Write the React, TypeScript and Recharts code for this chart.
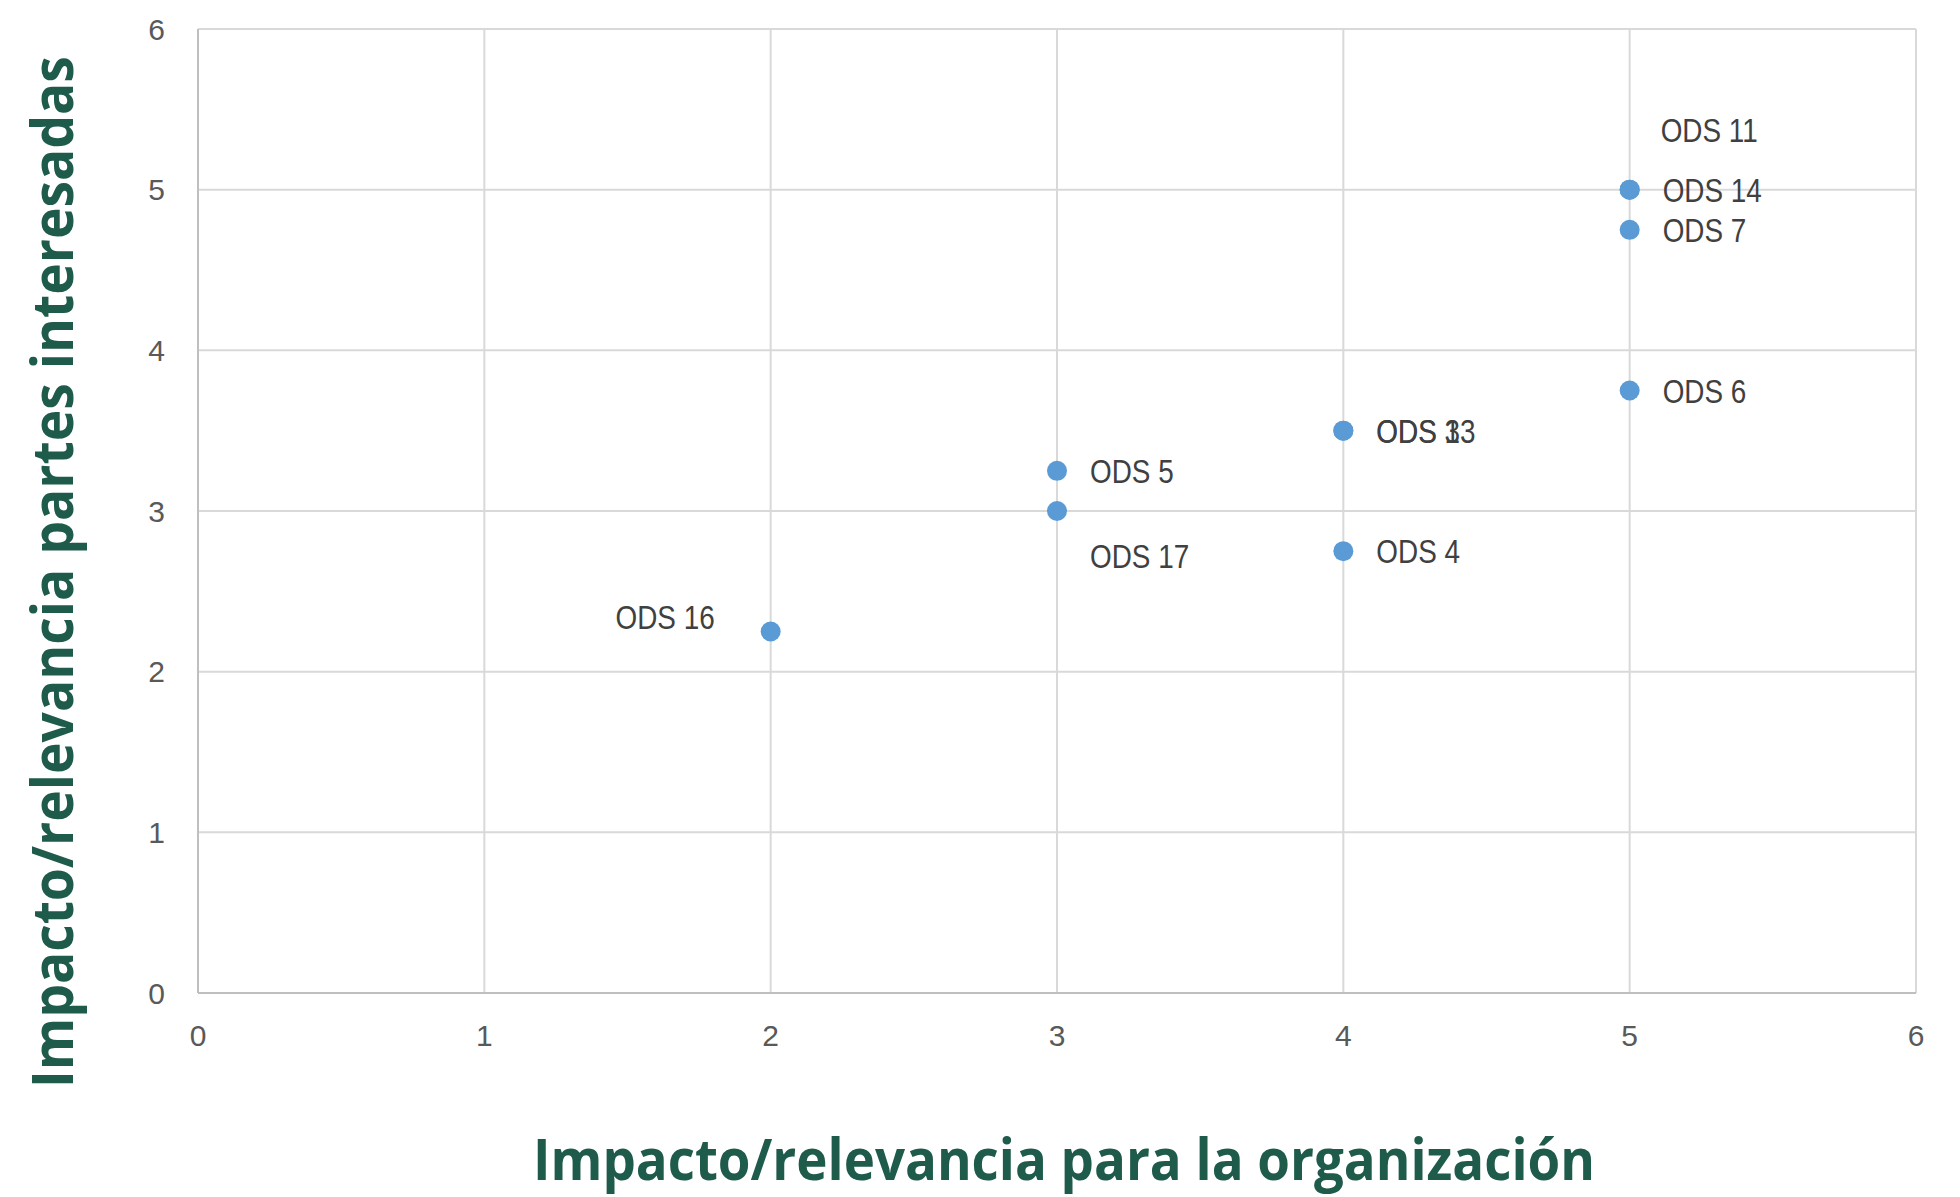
import React, { useLayoutEffect, useRef, useState } from 'react';
import { ScatterChart, Scatter, XAxis, YAxis, CartesianGrid, Label } from 'recharts';

const categories = ['ODS 14', 'ODS 11', 'ODS 7', 'ODS 6', 'ODS 3', 'ODS 13', 'ODS 5', 'ODS 17', 'ODS 4', 'ODS 16'];
const impactoOrganizacion = [5, 5, 5, 5, 4, 4, 3, 3, 4, 2];
const impactoPartes = [5, 5, 4.75, 3.75, 3.5, 3.5, 3.25, 3, 2.75, 2.25];
const axisTicks = [0, 1, 2, 3, 4, 5, 6];
const xTitle = 'Impacto/relevancia para la organización';
const yTitle = 'Impacto/relevancia partes interesadas';

const data = categories.map((name, i) => ({ name, x: impactoOrganizacion[i], y: impactoPartes[i] }));

const labelSide: Record<string, string> = { 'ODS 11': 'above', 'ODS 17': 'below', 'ODS 16': 'left' };

const LABEL_FONT = '"Liberation Sans", Arial, sans-serif';
const TITLE_COLOR = '#1f5b4a';

const renderPoint = (props: any) => {
  const { cx, cy, payload } = props;
  const side = labelSide[payload.name] || 'right';
  let tx = cx + 33;
  let ty = cy;
  let anchor: 'start' | 'end' = 'start';
  if (side === 'above') { tx = cx + 31; ty = cy - 60; }
  if (side === 'below') { ty = cy + 45; }
  if (side === 'left') { tx = cx - 56; ty = cy - 15; anchor = 'end'; }
  return (
    <g>
      <circle cx={cx} cy={cy} r={10} fill="#5b9bd5" />
      <text transform={`translate(${tx}, ${ty}) scale(0.82, 1)`} x={0} y={0} dy="0.36em" textAnchor={anchor}
        fill="#404040" fontSize={34} fontFamily={LABEL_FONT}>
        {payload.name}
      </text>
    </g>
  );
};

const FitTitle = ({ cx, cy, length, vertical, text }: any) => {
  const ref = useRef<SVGTextElement>(null);
  const [k, setK] = useState(0.8);
  useLayoutEffect(() => {
    if (ref.current) {
      const w = ref.current.getComputedTextLength();
      if (w > 0) setK(length / w);
    }
  }, [length, text]);
  const transform = vertical
    ? `translate(${cx}, ${cy}) rotate(-90) scale(${k}, 1)`
    : `translate(${cx}, ${cy}) scale(${k}, 1)`;
  return (
    <text ref={ref} transform={transform} x={0} y={0} dy="0.36em" textAnchor="middle" fill={TITLE_COLOR}
      fontSize={57} fontWeight={700} fontFamily='"Open Sans", sans-serif'>
      {text}
    </text>
  );
};

const XTitle = (props: any) => {
  const vb = props.viewBox || { x: 198, y: 993, width: 1718, height: 60 };
  return <FitTitle cx={vb.x + vb.width / 2 + 7} cy={vb.y + 166} length={1062} text={xTitle} />;
};

const YTitle = (props: any) => {
  const vb = props.viewBox || { x: 118, y: 29, width: 80, height: 964 };
  return <FitTitle cx={vb.x - 66} cy={vb.y + vb.height / 2 + 61} length={1032} vertical text={yTitle} />;
};

const tickStyle = { fill: '#595959', fontSize: 30, fontFamily: LABEL_FONT };

export default function App() {
  return (
    <div style={{ position: 'absolute', left: 0, top: 0, width: 1960, height: 1197, background: '#ffffff' }}>
      <ScatterChart width={1960} height={1197} margin={{ top: 29, right: 44, bottom: 144, left: 118 }}>
        <CartesianGrid stroke="#d9d9d9" strokeWidth={2} />
        <XAxis type="number" dataKey="x" domain={[0, 6]} ticks={axisTicks} interval={0}
          axisLine={{ stroke: '#bfbfbf', strokeWidth: 2 }} tickLine={false} tickSize={0} tickMargin={32}
          height={60} tick={tickStyle}>
          <Label content={<XTitle />} />
        </XAxis>
        <YAxis type="number" dataKey="y" domain={[0, 6]} ticks={axisTicks} interval={0}
          axisLine={{ stroke: '#bfbfbf', strokeWidth: 2 }} tickLine={false} tickSize={0} tickMargin={33}
          width={80} tick={tickStyle}>
          <Label content={<YTitle />} />
        </YAxis>
        <Scatter data={data} isAnimationActive={false} shape={renderPoint} />
      </ScatterChart>
    </div>
  );
}
